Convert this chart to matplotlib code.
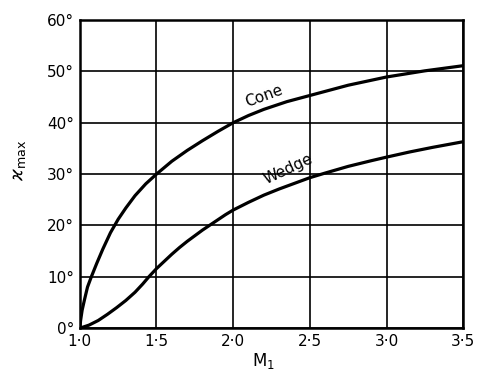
import numpy as np
import matplotlib
matplotlib.use('Agg')
import matplotlib.pyplot as plt

# Mach number M1 and maximum deflection angle (degrees)
mach_cone = [1.0, 1.005, 1.015, 1.03, 1.05, 1.075, 1.11, 1.15, 1.2, 1.25, 1.3, 1.36, 1.43, 1.5,
             1.6, 1.7, 1.8, 1.9, 2.0, 2.1, 2.2, 2.35, 2.5, 2.75, 3.0, 3.25, 3.5]
chi_cone = [0, 1.5, 3.5, 5.5, 8, 10, 12.6, 15.4, 18.6, 21.2, 23.4, 25.8, 28.1, 30,
            32.5, 34.6, 36.5, 38.3, 40, 41.4, 42.6, 44.1, 45.3, 47.3, 48.9, 50.1, 51.1]

mach_wedge = [1.0, 1.06, 1.12, 1.18, 1.24, 1.3, 1.36, 1.41, 1.45, 1.5, 1.55, 1.6, 1.65, 1.7,
              1.75, 1.8, 1.85, 1.9, 1.95, 2.0, 2.1, 2.2, 2.3, 2.4, 2.5, 2.6, 2.75, 2.9, 3.0,
              3.15, 3.3, 3.5]
chi_wedge = [0, 0.6, 1.5, 2.7, 4.0, 5.4, 7.0, 8.6, 10.0, 11.6, 13.0, 14.4, 15.7, 16.9,
             18.0, 19.1, 20.1, 21.1, 22.1, 23.0, 24.5, 25.9, 27.1, 28.2, 29.3, 30.2, 31.5, 32.6, 33.3,
             34.3, 35.2, 36.3]

xticks = [1.0, 1.5, 2.0, 2.5, 3.0, 3.5]
xlabels = ['1·0', '1·5', '2·0', '2·5', '3·0', '3·5']
yticks = [0, 10, 20, 30, 40, 50, 60]
ylabels = ['0°', '10°', '20°', '30°', '40°', '50°', '60°']

fig = plt.figure(figsize=(4.78, 3.70), dpi=100)
ax = fig.add_axes([0.167, 0.113, 0.802, 0.833])

ax.plot(mach_cone, chi_cone, color='black', lw=2.3, solid_joinstyle='round')
ax.plot(mach_wedge, chi_wedge, color='black', lw=2.3, solid_joinstyle='round')

ax.set_xlim(1.0, 3.5)
ax.set_ylim(0, 60)
ax.set_xticks(xticks)
ax.set_xticklabels(xlabels, fontsize=11)
ax.set_yticks(yticks)
ax.set_yticklabels(ylabels, fontsize=11)
ax.tick_params(length=0, pad=4)
ax.grid(True, color='black', lw=1.2)
for s in ax.spines.values():
    s.set_linewidth(1.8)

ax.text(2.2, 45.2, 'Cone', fontsize=11, rotation=20, ha='center', va='center')
ax.text(2.36, 31.0, 'Wedge', fontsize=11, rotation=25, ha='center', va='center')

ax.set_xlabel('M$_1$', fontsize=12)
ax.xaxis.set_label_coords(0.478, -0.075)
ax.set_ylabel(r'$\varkappa_{\rm max}$', fontsize=13)
ax.yaxis.set_label_coords(-0.135, 0.545)

fig.savefig('out.png', dpi=100)
